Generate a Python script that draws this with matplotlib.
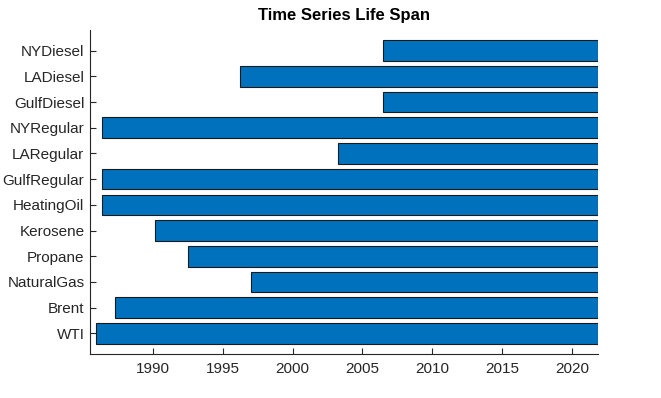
import matplotlib.pyplot as plt

plt.rcParams.update({
    'font.family': ['Liberation Sans', 'DejaVu Sans'],
    'font.size': 11,
    'text.color': '#262626',
    'axes.edgecolor': '#262626',
    'xtick.color': '#262626',
    'ytick.color': '#262626',
})

# ── Data: series names (bottom to top) and first/last year of each series ──
series = ['WTI', 'Brent', 'NaturalGas', 'Propane', 'Kerosene', 'HeatingOil',
          'GulfRegular', 'LARegular', 'NYRegular', 'GulfDiesel', 'LADiesel', 'NYDiesel']
start_year = [1985.97, 1987.33, 1997.0, 1992.5, 1990.2, 1986.38,
              1986.38, 2003.24, 1986.38, 2006.46, 1996.26, 2006.46]
end_year = [2021.84] * len(series)
xtick_years = [1990, 1995, 2000, 2005, 2010, 2015, 2020]

fig = plt.figure(figsize=(6.61, 3.98), dpi=100)
ax = fig.add_axes([0.1362, 0.1106, 0.7685, 0.814])

pos = range(1, len(series) + 1)
widths = [e - s for s, e in zip(start_year, end_year)]
ax.barh(pos, widths, left=start_year, height=0.8, color='#0072BD',
        edgecolor='#1a1a1a', linewidth=0.8)

ax.set_yticks(list(pos))
ax.set_yticklabels(series)
ax.set_xticks(xtick_years)
ax.set_xlim(1985.52, 2021.84)
ax.set_ylim(0.2, 12.8)

ax.spines['top'].set_visible(False)
ax.spines['right'].set_visible(False)
ax.tick_params(direction='in', length=4, width=0.8, labelsize=11)
ax.tick_params(axis='y', pad=4)
ax.tick_params(axis='x', pad=6)

ax.set_title('Time Series Life Span', fontsize=12, fontweight='bold', pad=7, color='#000000')

fig.savefig('out.png', dpi=100)
